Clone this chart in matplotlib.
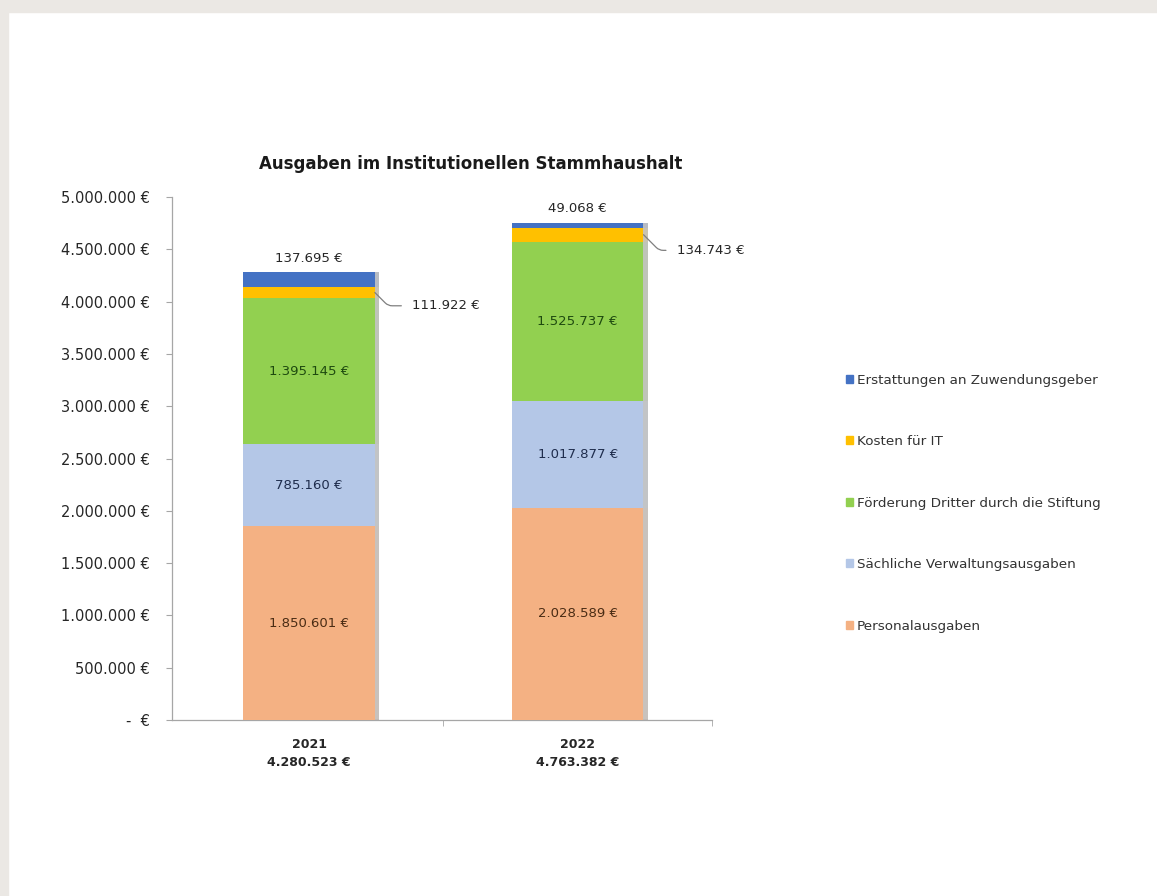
import matplotlib
matplotlib.use("Agg")
import matplotlib.pyplot as plt
import matplotlib.patches as mpatches
import matplotlib.patheffects as pe
import numpy as np

plt.rcParams['font.family'] = ['DejaVu Sans']

# data
years = ["2021", "2022"]
totals = ["4.280.523 €", "4.763.382 €"]
series = ["Personalausgaben", "Sächliche Verwaltungsausgaben",
          "Förderung Dritter durch die Stiftung", "Kosten für IT",
          "Erstattungen an Zuwendungsgeber"]
personal = [1850601, 2028589]
saechlich = [785160, 1017877]
foerderung = [1395145, 1525737]
kosten_it = [111922, 134743]
erstattungen = [137695, 49068]

colors = ["#F4B183", "#B4C7E7", "#92D050", "#FFC000", "#4472C4"]
label_colors = ["#4a2c14", "#1f2d4d", "#1e4a0f", "#262626", "#262626"]
yticks = [0, 500000, 1000000, 1500000, 2000000, 2500000,
          3000000, 3500000, 4000000, 4500000, 5000000]


def eur(v):
    return f"{v:,.0f} €".replace(",", ".")


fig = plt.figure(figsize=(11.57, 8.96), dpi=100)
fig.patch.set_facecolor("white")
# grey frame of the page
fig.patches.append(mpatches.Rectangle((0, 1 - 12 / 896), 1, 12 / 896, transform=fig.transFigure,
                                      color="#ebe8e4", zorder=0))
fig.patches.append(mpatches.Rectangle((0, 0), 8 / 1157, 1, transform=fig.transFigure,
                                      color="#ebe8e4", zorder=0))

ax = fig.add_axes([172 / 1157, 1 - 720 / 896, 540 / 1157, 523 / 896])
x = np.arange(len(years))
width = 0.49
data = [personal, saechlich, foerderung, kosten_it, erstattungen]
bottom = np.zeros(len(years))
bars = []
shadow = [pe.SimplePatchShadow(offset=(3, 0), alpha=0.3), pe.Normal()]
for vals, col, name in zip(data, colors, series):
    b = ax.bar(x, vals, width, bottom=bottom, color=col, zorder=3)
    for p in b:
        p.set_path_effects(shadow)
    bars.append((np.array(vals), bottom.copy()))
    bottom = bottom + np.array(vals)

# labels inside the three big segments
for i in range(3):
    vals, bot = bars[i]
    for xi in x:
        ax.text(xi, bot[xi] + vals[xi] / 2, eur(vals[xi]), ha="center", va="center",
                fontsize=9.5, color=label_colors[i], zorder=5)

# Erstattungen label above each bar
vals, bot = bars[4]
for xi in x:
    ax.annotate(eur(vals[xi]), (xi, bot[xi] + vals[xi]), xytext=(0, 14),
                textcoords="offset pixels", ha="center", va="center",
                fontsize=9.5, color="#262626", annotation_clip=False)

# IT labels with leader line
vals, bot = bars[3]
it_pos = [(0.385, 3960000), (1.37, 4490000)]
for xi in x:
    ax.annotate(eur(vals[xi]), xy=(xi + width / 2, bot[xi] + vals[xi] / 2),
                xytext=it_pos[xi], ha="left", va="center", fontsize=9.5,
                color="#262626", annotation_clip=False,
                arrowprops=dict(arrowstyle="-", color="#7f7f7f", lw=0.9,
                                shrinkA=6, shrinkB=0,
                                connectionstyle="angle,angleA=0,angleB=-45,rad=4"))

ax.set_xlim(-0.51, 1.5)
ax.set_ylim(0, 5000000)
ax.set_yticks(yticks)
ax.set_yticklabels([eur(v) if v else "-  €" for v in yticks], fontsize=10.5, color="#262626")
ax.tick_params(axis="y", length=4, color="#a6a6a6", pad=12)
ax.set_xticks(x)
ax.set_xticklabels([f"{y}\n{t}" for y, t in zip(years, totals)], fontsize=9,
                   fontweight="bold", color="#262626", linespacing=1.5)
ax.tick_params(axis="x", length=0, pad=13)
ax.set_xticks([0.5, 1.5], minor=True)
ax.tick_params(axis="x", which="minor", length=4, color="#a6a6a6")
for s in ["top", "right"]:
    ax.spines[s].set_visible(False)
for s in ["left", "bottom"]:
    ax.spines[s].set_color("#a6a6a6")
    ax.spines[s].set_linewidth(0.9)

fig.text(471 / 1157, 1 - 164 / 896, "Ausgaben im Institutionellen Stammhaushalt",
         ha="center", va="center", fontsize=12, fontweight="bold", color="#1a1a1a")

# legend, top entry first like in the reference
handles = [mpatches.Patch(color=c, label=n) for c, n in zip(colors, series)][::-1]
fig.legend(handles=handles, loc="center left",
           bbox_to_anchor=(846 / 1157, 1 - 503 / 896), frameon=False, fontsize=9.7,
           labelcolor="#333333", handlelength=0.5, handleheight=0.5, handletextpad=0.3,
           labelspacing=3.6, borderpad=0, borderaxespad=0)

fig.savefig("out.png", dpi=100, facecolor=fig.get_facecolor())
